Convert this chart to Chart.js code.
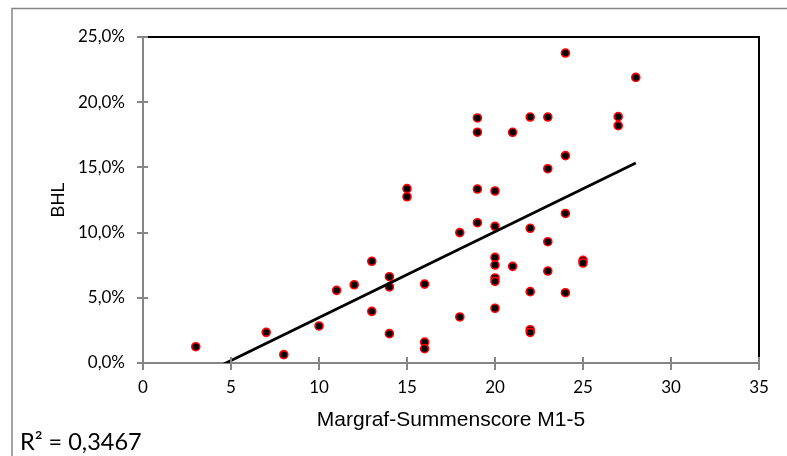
<!DOCTYPE html>
<html>
<head>
<meta charset="utf-8">
<script src="https://cdn.jsdelivr.net/npm/chart.js@4/dist/chart.umd.min.js"></script>
<style>
    body { margin: 0; background: #fff; }
    canvas { display: block; }
</style>
</head>
<body>
<canvas id="bhlChart" width="787" height="456"></canvas>
<script>
    // Margraf score (x) and BHL in percent (y), one entry per respondent
    var scoreX = [3, 7, 8, 10, 11, 12, 13, 13, 14, 14, 14, 15, 15, 16, 16, 16, 18, 18,
                  19, 19, 19, 19, 20, 20, 20, 20, 20, 20, 20, 21, 21, 22, 22, 22, 22, 22,
                  23, 23, 23, 23, 24, 24, 24, 24, 25, 25, 27, 27, 28];
    var bhlY = [1.25, 2.35, 0.64, 2.84, 5.57, 6.0, 7.8, 3.96, 6.62, 5.83, 2.25, 13.37, 12.75,
                6.05, 1.6, 1.1, 10.0, 3.53, 18.79, 17.7, 13.34, 10.76, 13.19, 10.48, 8.1, 7.51,
                6.52, 6.26, 4.2, 17.69, 7.41, 18.86, 10.33, 5.47, 2.55, 2.35, 18.86, 14.9, 9.3,
                7.05, 23.77, 15.9, 11.47, 5.39, 7.87, 7.67, 18.89, 18.2, 21.9];

    // linear trendline end points
    var trendX = [3, 28];
    var trendY = [-1.13, 15.34];

    var xTicks = [0, 5, 10, 15, 20, 25, 30, 35];
    var yTicks = [0, 5, 10, 15, 20, 25];
    var rSquared = 'R² = 0,3467';

    var points = [];
    for (var i = 0; i < scoreX.length; i++) {
        points.push({ x: scoreX[i], y: bhlY[i] });
    }
    var trend = [];
    for (var j = 0; j < trendX.length; j++) {
        trend.push({ x: trendX[j], y: trendY[j] });
    }

    var axisGray = '#868686';

    // frame, plot border, crossing tick stubs and the R² label
    var decorations = {
        id: 'decorations',
        beforeDraw: function (chart) {
            var c = chart.ctx;
            c.save();
            c.strokeStyle = axisGray;
            c.lineWidth = 1.5;
            c.beginPath();
            c.moveTo(12, 456);
            c.lineTo(12, 8.5);
            c.lineTo(787, 8.5);
            c.stroke();
            c.restore();
        },
        afterDatasetsDraw: function (chart) {
            var c = chart.ctx;
            var a = chart.chartArea;
            c.save();
            c.strokeStyle = '#000';
            c.lineWidth = 2;
            c.beginPath();
            c.moveTo(a.left + 1, a.top);
            c.lineTo(a.right, a.top);
            c.lineTo(a.right, a.bottom);
            c.stroke();

            c.strokeStyle = axisGray;
            c.lineWidth = 2;
            c.beginPath();
            var xs = chart.scales.x;
            xTicks.forEach(function (v) {
                var px = Math.round(xs.getPixelForValue(v));
                c.moveTo(px, a.bottom);
                c.lineTo(px, a.bottom - 6);
            });
            var ys = chart.scales.y;
            yTicks.forEach(function (v) {
                var py = Math.round(ys.getPixelForValue(v));
                c.moveTo(a.left, py);
                c.lineTo(a.left + 5, py);
            });
            c.stroke();

            c.fillStyle = '#000';
            c.font = '23.5px Lato';
            c.textBaseline = 'alphabetic';
            c.textAlign = 'left';
            c.fillText(rSquared, 20, 450);
            c.restore();
        }
    };

    var ctx = document.getElementById('bhlChart').getContext('2d');
    var chart = new Chart(ctx, {
        type: 'scatter',
        data: {
            datasets: [
                {
                    label: 'Trend',
                    type: 'line',
                    data: trend,
                    borderColor: '#000',
                    borderWidth: 2.8,
                    pointRadius: 0,
                    fill: false,
                    clip: 0,
                    order: 0
                },
                {
                    label: 'BHL',
                    data: points,
                    backgroundColor: '#000',
                    borderColor: '#ff0000',
                    borderWidth: 1.6,
                    pointRadius: 4,
                    order: 1
                }
            ]
        },
        options: {
            responsive: false,
            animation: false,
            devicePixelRatio: 1,
            layout: {
                padding: { top: 37, right: 28, left: 0, bottom: 0 }
            },
            scales: {
                x: {
                    type: 'linear',
                    min: 0,
                    max: 35,
                    afterFit: function (scale) { scale.height = 93; },
                    afterBuildTicks: function (scale) {
                        scale.ticks = xTicks.map(function (v) { return { value: v }; });
                    },
                    border: { color: axisGray, width: 2 },
                    grid: { drawOnChartArea: false, drawTicks: true, tickLength: 7, color: axisGray, lineWidth: 2 },
                    ticks: {
                        color: '#000',
                        font: { family: 'Lato', size: 17 },
                        padding: 7,
                        maxRotation: 0
                    },
                    title: {
                        display: true,
                        text: 'Margraf-Summenscore M1-5',
                        color: '#000',
                        font: { family: 'Liberation Sans', size: 21 },
                        padding: { top: 0, bottom: 23 }
                    }
                },
                y: {
                    type: 'linear',
                    min: 0,
                    max: 25,
                    afterFit: function (scale) { scale.width = 143; },
                    afterBuildTicks: function (scale) {
                        scale.ticks = yTicks.map(function (v) { return { value: v }; });
                    },
                    border: { color: axisGray, width: 2 },
                    grid: { drawOnChartArea: false, drawTicks: true, tickLength: 6, color: axisGray, lineWidth: 2 },
                    ticks: {
                        color: '#000',
                        font: { family: 'Lato', size: 17 },
                        padding: 12,
                        callback: function (value) {
                            return value.toFixed(1).replace('.', ',') + '%';
                        }
                    },
                    title: {
                        display: true,
                        text: 'BHL',
                        color: '#000',
                        font: { family: 'Liberation Sans', size: 18 },
                        padding: { top: 48, bottom: 0 }
                    }
                }
            },
            plugins: {
                legend: { display: false },
                tooltip: { enabled: false }
            }
        },
        plugins: [decorations]
    });
</script>
</body>
</html>
